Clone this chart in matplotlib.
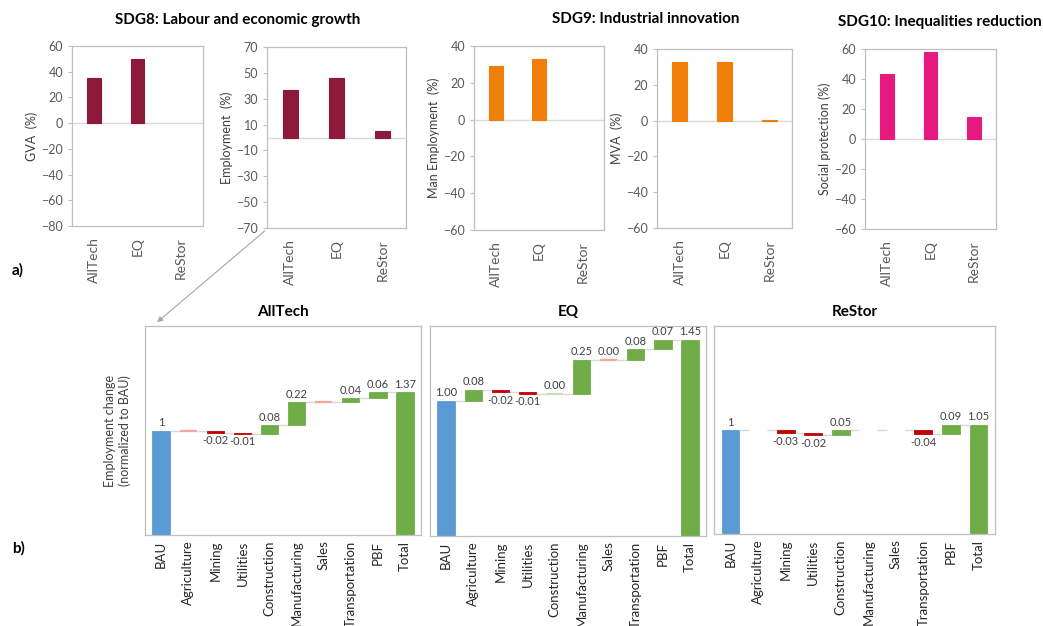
import matplotlib
matplotlib.use("Agg")
import matplotlib.pyplot as plt
import numpy as np

plt.rcParams["font.family"] = ["Lato", "DejaVu Sans"]

# ── Data ─────────────────────────────────────────────────────────────────────

SCENARIOS = ["AllTech", "EQ", "ReStor"]

GVA = [35.5, 50.0, 0.0]
EMPLOYMENT = [36.8, 46.0, 5.0]
MAN_EMPLOYMENT = [29.0, 33.0, 0.0]
MVA = [33.0, 33.0, 0.6]
SOCIAL_PROTECTION = [43.5, 57.8, 14.5]

SECTORS = ["Agriculture", "Mining", "Utilities", "Construction",
           "Manufacturing", "Sales", "Transportation", "PBF"]
BAU_LEVEL = 1.0
ALLTECH_STEPS = [-0.001, -0.02, -0.01, 0.08, 0.22, -0.001, 0.04, 0.06]
EQ_STEPS = [0.08, -0.02, -0.01, 0.001, 0.25, -0.001, 0.08, 0.07]
RESTOR_STEPS = [0.0, -0.03, -0.02, 0.05, 0.0, 0.0, -0.04, 0.09]

# ── Styling ──────────────────────────────────────────────────────────────────

W, H = 1043, 626
TEXT_GREY = "#595959"
SPINE_GREY = "#BFBFBF"
BLUE = "#5B9BD5"
GREEN = "#70AD47"
RED = "#C00000"
PALE_GREEN = "#C5E0B4"
PALE_RED = "#F4A6A6"


def px_rect(x0, y0, x1, y1):
    """Axes rectangle from pixel box (top-left origin)."""
    return [x0 / W, 1 - y1 / H, (x1 - x0) / W, (y1 - y0) / H]


def style_box(ax):
    for s in ax.spines.values():
        s.set_color(SPINE_GREY)
        s.set_linewidth(0.9)


def sdg_panel(fig, rect, values, color, ylabel, ylim, yticks):
    ax = fig.add_axes(rect)
    x = np.arange(len(SCENARIOS))
    # zero-valued bars get no outline so nothing shows on the axis
    lws = [0.8 if v != 0 else 0 for v in values]
    ax.bar(x, values, width=0.32, color=color, edgecolor=color, linewidth=lws)
    ax.axhline(0, color="#D9D9D9", linewidth=1.0, zorder=0)
    ax.set_xlim(-0.5, len(SCENARIOS) - 0.5)
    ax.set_ylim(*ylim)
    ax.set_yticks(yticks)
    ax.set_xticks(x)
    ax.set_xticklabels(SCENARIOS, rotation=90, fontsize=10, color=TEXT_GREY)
    ax.tick_params(axis="x", length=0, pad=8)
    ax.tick_params(axis="y", labelsize=9, labelcolor=TEXT_GREY,
                   color=SPINE_GREY, length=3)
    ax.set_ylabel(ylabel, fontsize=9, color="#404040", labelpad=2)
    style_box(ax)
    return ax


def step_colour(v):
    if v == 0:
        return None
    if abs(v) < 0.005:
        return PALE_GREEN if v > 0 else PALE_RED
    return GREEN if v > 0 else RED


def fmt_label(v, fmt):
    v = round(v, 2)
    if v == 0:
        v = 0.0
    return format(v, fmt)


def waterfall(fig, rect, title, steps, ymax, fmt, ylabel=None):
    ax = fig.add_axes(rect)
    n = len(steps) + 2
    width = 0.65
    labels = ["BAU"] + SECTORS + ["Total"]
    total = BAU_LEVEL + sum(steps)
    lab_kw = dict(ha="center", fontsize=8, color="#404040")

    ax.bar(0, BAU_LEVEL, width=width, color=BLUE, edgecolor=BLUE, linewidth=0.6)
    ax.text(0, BAU_LEVEL + 0.012 * ymax, fmt_label(BAU_LEVEL, fmt),
            va="bottom", **lab_kw)

    level = BAU_LEVEL
    for i, v in enumerate(steps, start=1):
        new = level + v
        c = step_colour(v)
        if c is not None:
            lw = 1.6 if abs(v) < 0.005 else 0.6
            ax.bar(i, v, bottom=level, width=width, color=c, edgecolor=c,
                   linewidth=lw, zorder=3)
            if not (fmt == "g" and abs(v) < 0.005):
                if v > 0 or abs(v) < 0.005:
                    ax.text(i, max(level, new) + 0.012 * ymax, fmt_label(v, fmt),
                            va="bottom", **lab_kw)
                else:
                    ax.text(i, min(level, new) - 0.012 * ymax, fmt_label(v, fmt),
                            va="top", **lab_kw)
        # connector from the previous bar
        ax.hlines(level, i - 1 + width / 2, i - width / 2,
                  color="#D9D9D9", linewidth=1.0, zorder=2)
        level = new
    ax.hlines(level, len(steps) + width / 2, n - 1 - width / 2,
              color="#D9D9D9", linewidth=1.0, zorder=2)

    ax.bar(n - 1, total, width=width, color=GREEN, edgecolor=GREEN, linewidth=0.6)
    ax.text(n - 1, total + 0.012 * ymax, fmt_label(total, fmt),
            va="bottom", **lab_kw)

    ax.set_xlim(-0.6, n - 0.4)
    ax.set_ylim(0, ymax)
    ax.set_yticks([])
    ax.set_xticks(np.arange(n))
    ax.set_xticklabels(labels, rotation=90, fontsize=9.5, color="#262626")
    ax.tick_params(axis="x", length=0, pad=4)
    ax.set_title(title, fontsize=11, fontweight="bold", pad=7)
    if ylabel:
        ax.set_ylabel(ylabel, fontsize=9, color="#404040", labelpad=10)
    style_box(ax)
    return ax


fig = plt.figure(figsize=(W / 100, H / 100), dpi=100)

# ── a) SDG indicators ───────────────────────────────────────────────────────

sdg_panel(fig, px_rect(72, 46, 203, 226), GVA, "#8E1A3B", "GVA  (%)",
          (-80, 60), range(-80, 61, 20))
sdg_panel(fig, px_rect(267, 47, 406, 228), EMPLOYMENT, "#8E1A3B",
          "Employment  (%)", (-70, 70), range(-70, 71, 20))
sdg_panel(fig, px_rect(474, 46, 604, 230), MAN_EMPLOYMENT, "#F07F09",
          "Man Employment  (%)", (-60, 40), range(-60, 41, 20))
sdg_panel(fig, px_rect(657, 49, 792, 228), MVA, "#F07F09", "MVA  (%)",
          (-60, 40), range(-60, 41, 20))
sdg_panel(fig, px_rect(865, 49, 996, 229), SOCIAL_PROTECTION, "#E6197F",
          "Social protection (%)", (-60, 60), range(-60, 61, 20))

title_kw = dict(ha="center", va="center", fontsize=11, fontweight="bold")
fig.text(238 / W, 1 - 20 / H, "SDG8: Labour and economic growth", **title_kw)
fig.text(646 / W, 1 - 19 / H, "SDG9: Industrial innovation", **title_kw)
fig.text(940 / W, 1 - 22 / H, "SDG10: Inequalities reduction", **title_kw)

# ── b) Employment change by sector ──────────────────────────────────────────

waterfall(fig, px_rect(145, 326, 421, 535), "AllTech", ALLTECH_STEPS, 2.0, "g",
          ylabel="Employment change\n(normalized to BAU)")
waterfall(fig, px_rect(430, 326, 706, 536), "EQ", EQ_STEPS, 1.55, ".2f")
waterfall(fig, px_rect(714, 326, 995, 534), "ReStor", RESTOR_STEPS, 2.0, "g")

fig.text(12 / W, 1 - 270 / H, "a)", ha="left", va="center",
         fontsize=11, fontweight="bold")
fig.text(12 / W, 1 - 548 / H, "b)", ha="left", va="center",
         fontsize=11, fontweight="bold")

# pointer from the employment panel down to the sector breakdown
fig.add_artist(matplotlib.patches.FancyArrowPatch(
    (267 / W, 1 - 229 / H), (155 / W, 1 - 324 / H),
    transform=fig.transFigure, arrowstyle="-|>", mutation_scale=8,
    color="#A6A6A6", linewidth=0.8))

fig.savefig("out.png", dpi=100)
